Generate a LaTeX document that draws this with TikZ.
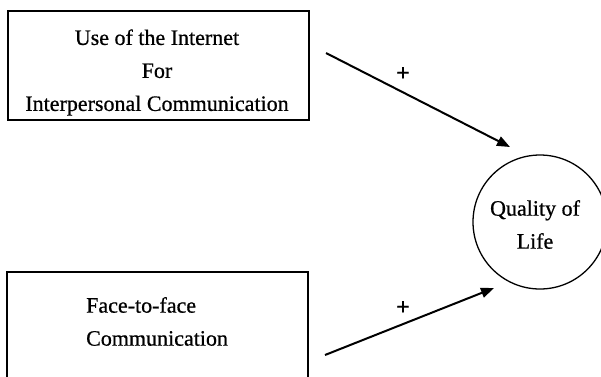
\documentclass[tikz,border=0pt]{standalone}
\usepackage{fontspec}
\setmainfont[FakeBold=0.7]{Liberation Serif}
\usetikzlibrary{arrows.meta,positioning}

\begin{document}
\begin{tikzpicture}[x=1pt,y=-1pt,
	box/.style={draw, line width=1.4pt, inner sep=0pt},
	words/.style={inner sep=0pt, font=\fontsize{22}{33}\selectfont},
	sign/.style={inner sep=0pt, font=\fontsize{24}{24}\bfseries},
	effect/.style={line width=2pt, -{Triangle[length=13pt,width=10pt]}}]
		\useasboundingbox (0,0) rectangle (601,376);

		% the two predictors
		\node[box, minimum width=301pt, minimum height=109pt] (netbox) at (158.5,65.5) {};
		\node[words, align=center] (nettext) at (157,72.5) {Use of the Internet\\For\\Interpersonal Communication};
		\node[box, minimum width=301pt, minimum height=148pt] (ftfbox) at (157.5,346) {};
		\node[words, align=left, anchor=west] (ftftext) at (86,321.5) {Face-to-face\\Communication};

		% the outcome
		\node[draw, circle, line width=1.3pt, minimum size=134pt, inner sep=0pt] (qol) at (540,222) {};
		\node[words, align=center] (qoltext) at (535,224.5) {Quality of\\Life};

		% paths
		\coordinate (netout) at (326,53);
		\coordinate (netin) at (510,147);
		\coordinate (ftfout) at (325,355);
		\coordinate (ftfin) at (494,288);
		\draw[effect] (netout) -- (netin);
		\draw[effect] (ftfout) -- (ftfin);
		\node[sign] (netsign) at (403,74) {+};
		\node[sign] (ftfsign) at (403,308) {+};
\end{tikzpicture}
\end{document}
